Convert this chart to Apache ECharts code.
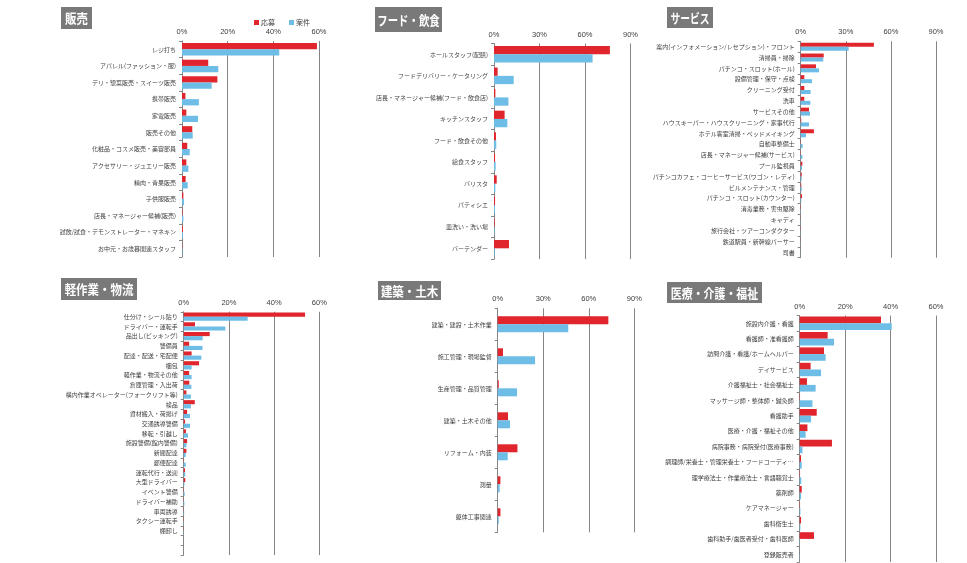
<!DOCTYPE html>
<html><head><meta charset="utf-8">
<script src="https://cdn.jsdelivr.net/npm/echarts@6/dist/echarts.min.js"></script>
<style>html,body{margin:0;padding:0;background:#fff}#c{width:967px;height:563px}</style>
</head><body><div id="c"></div>
<script>
// 販売
const cat1 = ['レジ打ち','アパレル(ファッション・服)','デリ・惣菜販売・スイーツ販売','携帯販売','家電販売','販売その他','化粧品・コスメ販売・美容部員','アクセサリー・ジュエリー販売','精肉・青果販売','子供服販売','店長・マネージャー候補(販売)','試飲/試食・デモンストレーター・マネキン','お中元・お歳暮関連スタッフ'];
const app1 = [59.1,11.5,15.5,1.5,1.9,4.5,2.3,1.9,1.6,0.6,0.2,0.4,0.1];
const job1 = [42.6,15.9,13.0,7.4,7.0,4.7,3.4,2.8,2.5,0.9,0.6,0.4,0.2];
// フード・飲食
const cat2 = ['ホールスタッフ(配膳)','フードデリバリー・ケータリング','店長・マネージャー候補(フード・飲食店)','キッチンスタッフ','フード・飲食その他','給食スタッフ','バリスタ','パティシエ','皿洗い・洗い場','バーテンダー'];
const app2 = [76.4,2.4,0.9,7.0,1.3,0.7,1.8,0.7,0.4,9.9];
const job2 = [65.0,13.0,9.5,8.8,1.5,1.1,0.9,0.6,0.4,0.4];
// サービス
const cat3 = ['案内(インフォメーション/レセプション)・フロント','清掃員・掃除','パチンコ・スロット(ホール)','設備管理・保守・点検','クリーニング受付','洗車','サービスその他','ハウスキーパー・ハウスクリーニング・家事代行','ホテル客室清掃・ベッドメイキング','自動車整備士','店長・マネージャー候補(サービス)','プール監視員','パチンコカフェ・コーヒーサービス(ワゴン・レディ)','ビルメンテナンス・管理','パチンコ・スロット(カウンター)','消毒業務・害虫駆除','キャディ','旅行会社・ツアーコンダクター','鉄道駅員・新幹線パーサー','司書'];
const app3 = [48.7,15.3,10.2,2.4,2.4,2.4,5.5,0.4,8.8,0.2,0.2,1.1,0.7,0.4,0.9,0.2,0.1,0.1,0.1,0.0];
const job3 = [31.9,15.0,12.2,7.5,6.6,6.4,6.2,5.5,3.5,1.3,1.1,0.9,0.7,0.7,0.4,0.2,0.1,0.1,0.1,0.1];
// 軽作業・物流
const cat4 = ['仕分け・シール貼り','ドライバー・運転手','品出し(ピッキング)','警備員','配達・配送・宅配便','梱包','軽作業・物流その他','倉庫管理・入出荷','構内作業オペレーター(フォークリフト等)','検品','資材搬入・荷揚げ','交通誘導警備','移転・引越し','施設警備(館内警備)','新聞配達','郵便配達','運転代行・送迎','大型ドライバー','イベント警備','ドライバー補助','車両誘導','タクシー運転手','棚卸し','',''];
const app4 = [53.7,5.0,11.5,2.4,3.5,6.8,2.4,2.5,1.2,4.9,1.5,0.6,1.0,1.5,1.2,0.15,0.6,0.7,0.15,0.1,0.1,0.1,0.1,null,null];
const job4 = [28.3,18.4,8.4,8.3,7.8,3.5,3.5,3.4,3.2,3.2,2.8,2.8,1.9,1.2,0.9,0.9,0.7,0.3,0.4,0.3,0.2,0.1,0.1,null,null];
// 建築・土木
const cat5 = ['建築・建設・土木作業','施工管理・現場監督','生産管理・品質管理','建築・土木その他','リフォーム・内装','測量','躯体工事関連'];
const app5 = [72.9,3.5,0.7,6.8,13.0,1.8,1.8];
const job5 = [46.5,24.6,12.7,8.1,6.6,1.3,0.7];
// 医療・介護・福祉
const cat6 = ['施設内介護・看護','看護師・准看護師','訪問介護・看護/ホームヘルパー','デイサービス','介護福祉士・社会福祉士','マッサージ師・整体師・鍼灸師','看護助手','医療・介護・福祉その他','病院事務・病院受付(医療事務)','調理師/栄養士・管理栄養士・フードコーディ…','理学療法士・作業療法士・言語聴覚士','薬剤師','ケアマネージャー','歯科衛生士','歯科助手/歯医者受付・歯科医師','登録販売者'];
const app6 = [35.8,12.3,10.7,4.8,3.2,0.15,7.5,3.4,14.2,0.6,0.15,0.9,0.15,0.6,6.3,0.0];
const job6 = [40.5,15.1,11.4,9.4,7.0,5.6,5.0,2.6,1.2,0.9,0.7,0.6,0.3,0.3,0.15,0.1];

const panelTitles = ['販売','フード・飲食','サービス','軽作業・物流','建築・土木','医療・介護・福祉'];
const axisMax = [60,90,90,60,90,60];
const axisStep = [20,30,30,20,30,20];
const seriesNames = ['応募','案件'];

const cats = [cat1,cat2,cat3,cat4,cat5,cat6];
const apps = [app1,app2,app3,app4,app5,app6];
const jobs = [job1,job2,job3,job4,job5,job6];

const RED = '#e0262c', BLUE = '#6dbde6', GRID = '#858585', TXT = '#404040';
const grids = [
  {left:182, top:41, width:137, height:216},
  {left:494, top:43.5, width:136.5, height:215.6},
  {left:800.7, top:41.3, width:135.3, height:216.4},
  {left:183.7, top:311.8, width:135.6, height:243.3},
  {left:497.7, top:308.3, width:136.6, height:224},
  {left:799.7, top:315.6, width:136.3, height:246.4}
];
const gaps = ['25%','23%','26%','15%','50%','13%'];
const boxes = [
  {x:61,y:7,w:31,h:22,s:0.88},
  {x:375,y:7,w:67,h:25,s:0.8},
  {x:667,y:7,w:46,h:21,s:0.75},
  {x:61,y:278,w:76,h:22,s:0.88},
  {x:378,y:281,w:63,h:19,s:0.88},
  {x:667,y:282,w:95,h:21,s:0.84}
];

const xAxis = [], yAxis = [], series = [], graphic = [];
for (let i = 0; i < 6; i++) {
  xAxis.push({
    type:'value', gridIndex:i, position:'top', min:0, max:axisMax[i], interval:axisStep[i],
    axisLine:{show:false}, axisTick:{show:false},
    axisLabel:{formatter:'{value}%', fontSize:7.5, color:TXT, margin:5, fontFamily:'Liberation Sans, sans-serif'},
    splitLine:{show:true, lineStyle:{color:GRID, width:1}}
  });
  yAxis.push({
    type:'category', gridIndex:i, inverse:true, data:cats[i],
    axisLine:{show:true, lineStyle:{color:GRID, width:1}},
    axisTick:{show:true, length:3, lineStyle:{color:GRID}},
    axisLabel:{fontSize:6, color:TXT, margin:6, interval:0, fontFamily:'Noto Sans CJK JP'}
  });
  series.push({
    type:'bar', name:seriesNames[0], xAxisIndex:i, yAxisIndex:i, data:apps[i],
    barGap:'0%', barCategoryGap:gaps[i], itemStyle:{color:RED}, silent:true
  });
  series.push({
    type:'bar', name:seriesNames[1], xAxisIndex:i, yAxisIndex:i, data:jobs[i],
    barGap:'0%', barCategoryGap:gaps[i], itemStyle:{color:BLUE}, silent:true
  });
  const b = boxes[i];
  graphic.push({type:'rect', left:b.x, top:b.y, shape:{width:b.w, height:b.h}, style:{fill:'#797979'}, z:10});
  graphic.push({type:'text', x:b.x + b.w/2, y:b.y + b.h/2 + 0.5, scaleX:b.s, z:11,
    style:{text:panelTitles[i], fill:'#fff', font:'bold 13px "Noto Sans CJK JP"', align:'center', verticalAlign:'middle'}});
}

const chart = echarts.init(document.getElementById('c'), null, {renderer:'canvas'});
chart.setOption({
  animation:false,
  backgroundColor:'#fff',
  grid:grids,
  xAxis, yAxis, series, graphic,
  legend:{
    data:seriesNames, left:249, top:14, icon:'rect', itemWidth:5, itemHeight:5, itemGap:14,
    textStyle:{fontSize:7, color:TXT, fontFamily:'Noto Sans CJK JP', padding:[0,0,0,-3]}
  }
});
</script></body></html>
